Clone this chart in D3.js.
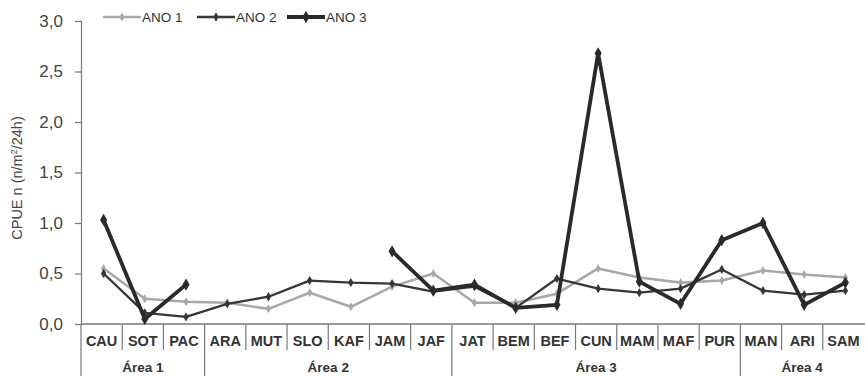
<!DOCTYPE html>
<html>
<head>
<meta charset="utf-8">
<script src="https://cdn.jsdelivr.net/npm/d3@7"></script>
<style>
  html, body { margin: 0; padding: 0; background: #fff; }
  svg { display: block; font-family: Arial, "Liberation Sans", sans-serif; }
</style>
</head>
<body>
<svg id="chart" width="865" height="376"></svg>
<script>
// Sampling sites, in order along the x axis
const sites = ["CAU","SOT","PAC","ARA","MUT","SLO","KAF","JAM","JAF","JAT","BEM","BEF","CUN","MAM","MAF","PUR","MAN","ARI","SAM"];

// Areas grouping the sites (first and last site of each)
const areas = ["Área 1","Área 2","Área 3","Área 4"];
const areaStart = ["CAU","ARA","JAT","MAN"];
const areaEnd   = ["PAC","JAF","PUR","SAM"];

// CPUE per site, one array per year (null = not sampled)
const ano1 = [0.55,0.25,0.22,0.21,0.15,0.31,0.17,0.37,0.50,0.21,0.21,0.30,0.55,0.46,0.41,0.43,0.53,0.49,0.46];
const ano2 = [0.50,0.11,0.07,0.20,0.27,0.43,0.41,0.40,0.32,0.37,0.16,0.45,0.35,0.31,0.35,0.54,0.33,0.29,0.33];
const ano3 = [1.03,0.05,0.39,null,null,null,null,0.72,0.33,0.39,0.16,0.19,2.68,0.42,0.20,0.83,1.00,0.19,0.41];

const seriesNames = ["ANO 1","ANO 2","ANO 3"];
const yTicks = [0,0.5,1.0,1.5,2.0,2.5,3.0];

const series = [
  { name: seriesNames[0], values: ano1, color: "#a8a8a8", width: 2.6, r: 2.4 },
  { name: seriesNames[1], values: ano2, color: "#363636", width: 2.3, r: 2.5 },
  { name: seriesNames[2], values: ano3, color: "#2a2a2a", width: 3.8, r: 3.3 }
];

const svg = d3.select("#chart");
const plotLeft = 81, plotRight = 864, plotTop = 21, plotBottom = 324;

const x = d3.scaleBand().domain(sites).range([plotLeft, plotRight]).padding(0);
const y = d3.scaleLinear().domain([0, 3]).range([plotBottom, plotTop]);
const cx = s => x(s) + x.bandwidth() / 2 + 2;

const fmt = v => d3.format(".1f")(v).replace(".", ",");

// Y axis
const yAxis = svg.append("g")
  .attr("transform", `translate(${plotLeft},0)`)
  .call(d3.axisLeft(y).tickValues(yTicks).tickFormat(fmt).tickSize(6).tickPadding(12));
yAxis.select(".domain").attr("stroke", "#777").attr("stroke-width", 1.2);
yAxis.selectAll(".tick line").attr("stroke", "#777").attr("stroke-width", 1.2);
yAxis.selectAll(".tick text")
  .attr("fill", "#444").attr("font-size", 17)
  .attr("font-family", "Arial, 'Liberation Sans', sans-serif");

// Y axis title
svg.append("text")
  .attr("transform", `translate(22,178) rotate(-90)`)
  .attr("text-anchor", "middle")
  .attr("fill", "#444").attr("font-size", 14.5)
  .html("CPUE n (n/m<tspan baseline-shift='super' font-size='9'>2</tspan>/24h)");

// X axis baseline
svg.append("line")
  .attr("x1", plotLeft).attr("x2", 865).attr("y1", plotBottom).attr("y2", plotBottom)
  .attr("stroke", "#777").attr("stroke-width", 1.4);

// Site dividers and labels
const groupEdges = new Set(areaStart.map(s => x(s)));
sites.forEach(s => {
  const x0 = x(s);
  svg.append("line")
    .attr("x1", x0).attr("x2", x0)
    .attr("y1", plotBottom).attr("y2", groupEdges.has(x0) ? 376 : 350)
    .attr("stroke", "#777").attr("stroke-width", 1.2);
  svg.append("text")
    .attr("x", x0 + x.bandwidth() / 2).attr("y", 346)
    .attr("text-anchor", "middle")
    .attr("fill", "#333").attr("font-size", 14.5).attr("font-weight", "bold")
    .text(s);
});

// Area labels
areas.forEach((a, i) => {
  const x0 = x(areaStart[i]);
  const x1 = x(areaEnd[i]) + x.bandwidth();
  svg.append("text")
    .attr("x", (x0 + x1) / 2).attr("y", 372)
    .attr("text-anchor", "middle")
    .attr("fill", "#333").attr("font-size", 13.5).attr("font-weight", "bold")
    .text(a);
});

// Lines and markers
const line = d3.line()
  .defined(d => d.v !== null)
  .x(d => cx(d.s))
  .y(d => y(d.v));

series.forEach(sr => {
  const pts = sites.map((s, i) => ({ s, v: sr.values[i] }));
  svg.append("path")
    .datum(pts)
    .attr("fill", "none")
    .attr("stroke", sr.color)
    .attr("stroke-width", sr.width)
    .attr("stroke-linejoin", "round")
    .attr("d", line);
  svg.append("g").selectAll("path")
    .data(pts.filter(d => d.v !== null))
    .join("path")
    .attr("transform", d => `translate(${cx(d.s)},${y(d.v)})`)
    .attr("d", d3.symbol(d3.symbolDiamond, sr.r * sr.r * 4))
    .attr("fill", sr.color);
});

// Legend
const legX = [103, 197, 287];
series.forEach((sr, i) => {
  const g = svg.append("g").attr("transform", `translate(${legX[i]},17)`);
  g.append("line").attr("x1", 0).attr("x2", 38).attr("y1", 0).attr("y2", 0)
    .attr("stroke", sr.color).attr("stroke-width", sr.width);
  g.append("path").attr("transform", "translate(19,0)")
    .attr("d", d3.symbol(d3.symbolDiamond, sr.r * sr.r * 4))
    .attr("fill", sr.color);
  g.append("text").attr("x", 39).attr("y", 5)
    .attr("fill", "#333").attr("font-size", 13.5)
    .text(sr.name);
});
</script>
</body>
</html>
